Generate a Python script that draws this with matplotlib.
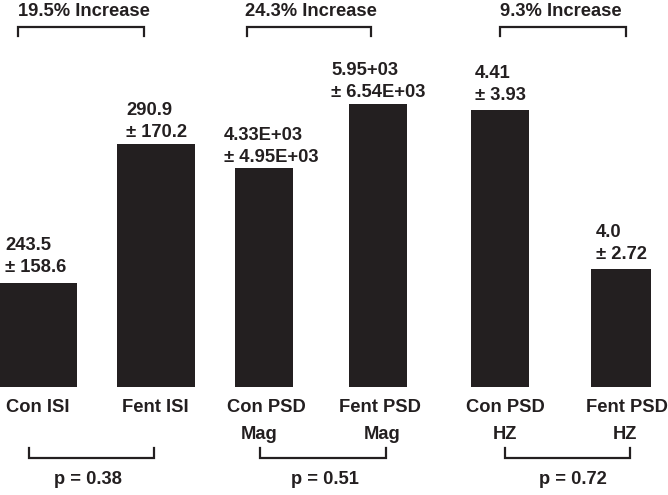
import matplotlib
matplotlib.use("Agg")
import matplotlib.pyplot as plt

# ---- data ----
categories = ["Con ISI", "Fent ISI", "Con PSD\nMag", "Fent PSD\nMag", "Con PSD\nHZ", "Fent PSD\nHZ"]
mean_labels = ["243.5", "290.9", "4.33E+03", "5.95+03", "4.41", "4.0"]
sd_labels = ["158.6", "170.2", "4.95E+03", "6.54E+03", "3.93", "2.72"]
# displayed (relative) bar heights as drawn in the original
bar_heights = [104, 243, 219, 283, 277, 118]
increase_labels = ["19.5% Increase", "24.3% Increase", "9.3% Increase"]
p_labels = ["p = 0.38", "p = 0.51", "p = 0.72"]

# ---- layout (pixel-like coordinates, y downwards) ----
W, H = 668, 495
baseline = 387
bar_left = [0, 117, 235, 349, 471, 591]
bar_right = [77, 195, 293, 407, 529, 651]
label_left = [5, 126, 224, 331, 475, 596]
label_gap = [11, 7, 6, 7, 10, 10]
cat_x1 = [38, 155, 266, 380, 505, 627]
cat_x2 = [38, 155, 259, 382, 505, 625]
top_br = [(18, 144), (247, 371), (500, 626)]
top_text_x = [18, 245, 500]
bot_br = [(29, 154), (260, 386), (505, 630)]
p_x = [88, 325, 573]

ink = "#231f20"
fs = 13.2
font = dict(family=["Liberation Sans", "DejaVu Sans"], weight="bold", color=ink, fontsize=fs)

fig = plt.figure(figsize=(W / 100, H / 100), dpi=100)
ax = fig.add_axes([0, 0, 1, 1])
ax.set_xlim(0, W)
ax.set_ylim(H, 0)
ax.axis("off")

centers = [(l + r) / 2 for l, r in zip(bar_left, bar_right)]
widths = [r - l for l, r in zip(bar_left, bar_right)]
ax.bar(centers, [-h for h in bar_heights], width=widths, bottom=baseline,
       color=ink, edgecolor="none")

for i in range(6):
    top = baseline - bar_heights[i]
    b2 = top - label_gap[i]
    ax.text(label_left[i], b2 - 22, mean_labels[i], ha="left", va="baseline", **font)
    ax.text(label_left[i], b2, "± " + sd_labels[i], ha="left", va="baseline", **font)
    lines = categories[i].split("\n")
    ax.text(cat_x1[i], 412, lines[0], ha="center", va="baseline", **font)
    if len(lines) > 1:
        ax.text(cat_x2[i], 439, lines[1], ha="center", va="baseline", **font)

lw = 1.6
for (a, b), tx, lab in zip(top_br, top_text_x, increase_labels):
    ax.plot([a, a, b, b], [36, 27, 27, 36], color=ink, lw=lw, solid_joinstyle="miter")
    ax.text(tx, 16.5, lab, ha="left", va="baseline", **font)

for (a, b), px, lab in zip(bot_br, p_x, p_labels):
    ax.plot([a, a, b, b], [448, 458, 458, 448], color=ink, lw=lw, solid_joinstyle="miter")
    ax.text(px, 484, lab, ha="center", va="baseline", **font)

fig.savefig("out.png", dpi=100, facecolor="white")
